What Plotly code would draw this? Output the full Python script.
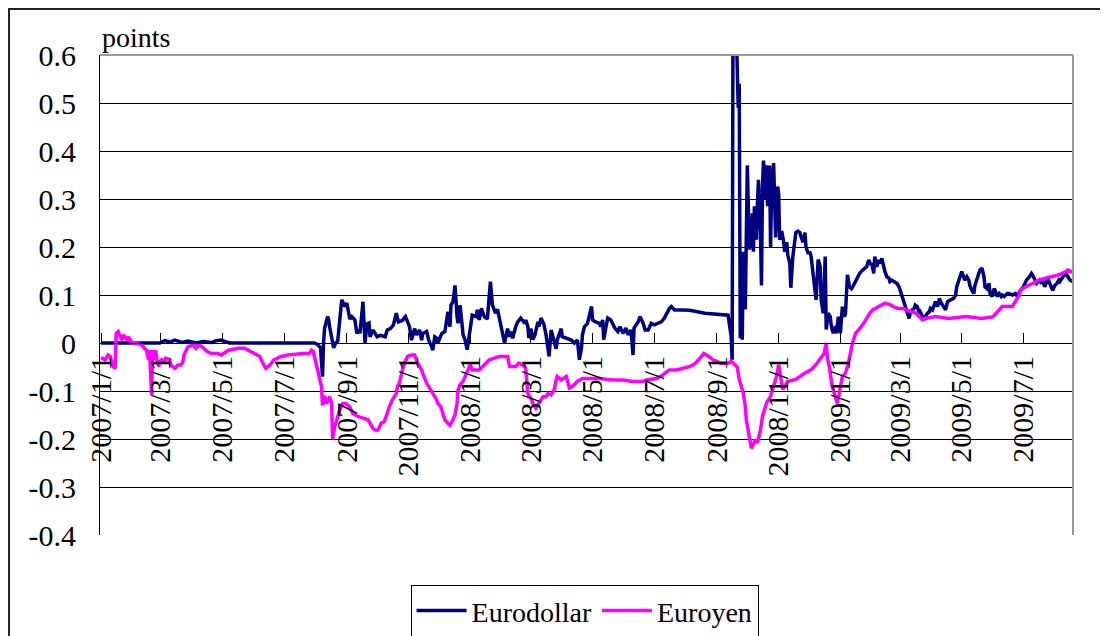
import plotly.graph_objects as go

# ---------------- data ----------------
eurodollar_dates = [
    "2007-01-01", "2007-02-28", "2007-03-05", "2007-03-10", "2007-03-15", "2007-03-22", "2007-03-28",
    "2007-04-05", "2007-04-12", "2007-04-20", "2007-04-25", "2007-04-30", "2007-05-04", "2007-05-08",
    "2007-07-31", "2007-08-03", "2007-08-06", "2007-08-08", "2007-08-09", "2007-08-10", "2007-08-13",
    "2007-08-14", "2007-08-15", "2007-08-17", "2007-08-19", "2007-08-21", "2007-08-23", "2007-08-27",
    "2007-08-30", "2007-09-01", "2007-09-04", "2007-09-06", "2007-09-09", "2007-09-11", "2007-09-13",
    "2007-09-14", "2007-09-17", "2007-09-19", "2007-09-21", "2007-09-23", "2007-09-24", "2007-09-27",
    "2007-10-01", "2007-10-04", "2007-10-09", "2007-10-11", "2007-10-14", "2007-10-17", "2007-10-20",
    "2007-10-22", "2007-10-26", "2007-10-29", "2007-10-31", "2007-11-02", "2007-11-04", "2007-11-07",
    "2007-11-09", "2007-11-12", "2007-11-14", "2007-11-15", "2007-11-19", "2007-11-21", "2007-11-24",
    "2007-11-25", "2007-11-27", "2007-11-29", "2007-11-30", "2007-12-04", "2007-12-07", "2007-12-09",
    "2007-12-10", "2007-12-12", "2007-12-13", "2007-12-15", "2007-12-17", "2007-12-19", "2007-12-20",
    "2007-12-22", "2007-12-24", "2007-12-25", "2007-12-27", "2007-12-29", "2008-01-03", "2008-01-07",
    "2008-01-08", "2008-01-10", "2008-01-12", "2008-01-15", "2008-01-18", "2008-01-21", "2008-01-23",
    "2008-01-26", "2008-01-28", "2008-01-30", "2008-02-01", "2008-02-02", "2008-02-04", "2008-02-07",
    "2008-02-09", "2008-02-10", "2008-02-12", "2008-02-15", "2008-02-17", "2008-02-20", "2008-02-24",
    "2008-02-25", "2008-02-27", "2008-02-28", "2008-03-01", "2008-03-03", "2008-03-05", "2008-03-08",
    "2008-03-09", "2008-03-11", "2008-03-14", "2008-03-16", "2008-03-17", "2008-03-19", "2008-03-21",
    "2008-03-24", "2008-03-26", "2008-03-27", "2008-03-31", "2008-04-01", "2008-04-05", "2008-04-10",
    "2008-04-13", "2008-04-16", "2008-04-18", "2008-04-20", "2008-04-21", "2008-04-23", "2008-04-26",
    "2008-04-30", "2008-05-01", "2008-05-04", "2008-05-08", "2008-05-09", "2008-05-11", "2008-05-12",
    "2008-05-14", "2008-05-16", "2008-05-19", "2008-05-23", "2008-05-26", "2008-05-28", "2008-05-31",
    "2008-06-03", "2008-06-05", "2008-06-08", "2008-06-10", "2008-06-11", "2008-06-15", "2008-06-17",
    "2008-06-20", "2008-06-22", "2008-06-25", "2008-06-28", "2008-07-01", "2008-07-04", "2008-07-08",
    "2008-07-11", "2008-07-16", "2008-07-18", "2008-07-21", "2008-07-28", "2008-08-05", "2008-08-20",
    "2008-09-01", "2008-09-10", "2008-09-12", "2008-09-15", "2008-09-16", "2008-09-17", "2008-09-19",
    "2008-09-22", "2008-09-23", "2008-09-24", "2008-09-25", "2008-09-26", "2008-09-27", "2008-09-29",
    "2008-10-01", "2008-10-03", "2008-10-05", "2008-10-06", "2008-10-07", "2008-10-08", "2008-10-10",
    "2008-10-11", "2008-10-12", "2008-10-14", "2008-10-15", "2008-10-16", "2008-10-17", "2008-10-19",
    "2008-10-20", "2008-10-21", "2008-10-23", "2008-10-24", "2008-10-25", "2008-10-27", "2008-10-28",
    "2008-10-29", "2008-10-31", "2008-11-01", "2008-11-02", "2008-11-04", "2008-11-06", "2008-11-07",
    "2008-11-09", "2008-11-10", "2008-11-12", "2008-11-13", "2008-11-15", "2008-11-17", "2008-11-18",
    "2008-11-20", "2008-11-22", "2008-11-23", "2008-11-25", "2008-11-27", "2008-11-28", "2008-11-30",
    "2008-12-02", "2008-12-03", "2008-12-05", "2008-12-07", "2008-12-08", "2008-12-10", "2008-12-12",
    "2008-12-13", "2008-12-15", "2008-12-17", "2008-12-18", "2008-12-20", "2008-12-22", "2008-12-23",
    "2008-12-25", "2008-12-27", "2008-12-28", "2008-12-30", "2009-01-01", "2009-01-03", "2009-01-05",
    "2009-01-06", "2009-01-08", "2009-01-10", "2009-01-12", "2009-01-14", "2009-01-17", "2009-01-20",
    "2009-01-23", "2009-01-27", "2009-01-29", "2009-01-31", "2009-02-01", "2009-02-03", "2009-02-04",
    "2009-02-06", "2009-02-08", "2009-02-09", "2009-02-11", "2009-02-13", "2009-02-14", "2009-02-16",
    "2009-02-18", "2009-02-19", "2009-02-21", "2009-02-23", "2009-02-26", "2009-02-28", "2009-03-01",
    "2009-03-03", "2009-03-05", "2009-03-06", "2009-03-08", "2009-03-10", "2009-03-11", "2009-03-13",
    "2009-03-15", "2009-03-16", "2009-03-18", "2009-03-20", "2009-03-21", "2009-03-23", "2009-03-25",
    "2009-03-26", "2009-03-28", "2009-03-30", "2009-03-31", "2009-04-02", "2009-04-04", "2009-04-05",
    "2009-04-07", "2009-04-09", "2009-04-10", "2009-04-12", "2009-04-14", "2009-04-15", "2009-04-17",
    "2009-04-19", "2009-04-20", "2009-04-23", "2009-04-25", "2009-04-26", "2009-04-28", "2009-04-29",
    "2009-05-01", "2009-05-04", "2009-05-06", "2009-05-08", "2009-05-09", "2009-05-11", "2009-05-13",
    "2009-05-14", "2009-05-16", "2009-05-19", "2009-05-21", "2009-05-23", "2009-05-24", "2009-05-26",
    "2009-05-28", "2009-05-29", "2009-05-31", "2009-06-02", "2009-06-03", "2009-06-05", "2009-06-07",
    "2009-06-09", "2009-06-10", "2009-06-12", "2009-06-15", "2009-06-17", "2009-06-20", "2009-06-23",
    "2009-06-25", "2009-06-28", "2009-07-01", "2009-07-04", "2009-07-07", "2009-07-09", "2009-07-10",
    "2009-07-12", "2009-07-14", "2009-07-17", "2009-07-19", "2009-07-20", "2009-07-22", "2009-07-24",
    "2009-07-25", "2009-07-27", "2009-07-29", "2009-07-30", "2009-08-01", "2009-08-03", "2009-08-05",
    "2009-08-06", "2009-08-09", "2009-08-12", "2009-08-14", "2009-08-16", "2009-08-19",
]
eurodollar_values = [
    0.0, 0.0, 0.005, 0.002, 0.006, 0.001, 0.004,
    0.0, 0.003, 0.001, 0.005, 0.006, 0.003, 0.0,
    0.0, -0.003, -0.01, -0.07, 0.0, 0.03, 0.055,
    0.05, 0.034, 0.01, -0.01, 0.0, 0.004, 0.09,
    0.076, 0.083, 0.05, 0.055, 0.048, 0.02, 0.028,
    0.02, 0.086, 0.0, 0.04, 0.042, 0.013, 0.027,
    0.013, 0.016, 0.013, 0.027, 0.03, 0.037, 0.062,
    0.044, 0.047, 0.055, 0.044, 0.034, 0.006, 0.03,
    0.017, 0.027, 0.006, 0.02, 0.024, 0.006, -0.008,
    -0.015, 0.013, 0.01, 0.0, 0.02, 0.024, 0.048,
    0.065, 0.034, 0.079, 0.086, 0.12, 0.055, 0.041,
    0.079, 0.034, 0.017, 0.006, -0.014, 0.058, 0.055,
    0.069, 0.048, 0.072, 0.055, 0.05, 0.128, 0.079,
    0.062, 0.07, 0.048, 0.03, 0.013, 0.0, 0.03,
    0.013, 0.024, 0.01, 0.034, 0.044, 0.052, 0.041,
    0.048, 0.034, 0.01, 0.03, 0.007, 0.017, 0.044,
    0.034, 0.052, 0.038, 0.017, 0.0, -0.028, 0.027,
    0.006, -0.012, 0.006, 0.03, 0.013, 0.01, 0.006,
    0.0, 0.006, -0.035, -0.011, 0.017, 0.034, 0.041,
    0.076, 0.048, 0.044, 0.041, 0.034, 0.048, 0.007,
    0.031, 0.052, 0.048, 0.031, 0.024, 0.034, 0.02,
    0.031, 0.017, 0.027, -0.025, 0.031, 0.044, 0.055,
    0.041, 0.027, 0.027, 0.041, 0.038, 0.041, 0.044,
    0.052, 0.072, 0.076, 0.069, 0.069, 0.068, 0.062,
    0.06, 0.058, 0.058, 0.014, -0.035, 0.8, 0.75,
    0.49, 0.54, 0.01, 0.19, 0.007, 0.19, 0.07,
    0.37, 0.195, 0.215, 0.27, 0.19, 0.285, 0.215,
    0.29, 0.34, 0.23, 0.12, 0.326, 0.38, 0.3,
    0.37, 0.285, 0.37, 0.2, 0.31, 0.375, 0.31,
    0.22, 0.326, 0.31, 0.215, 0.233, 0.21, 0.19,
    0.21, 0.183, 0.167, 0.115, 0.18, 0.215, 0.23,
    0.233, 0.23, 0.222, 0.21, 0.23, 0.2, 0.188,
    0.188, 0.181, 0.146, 0.097, 0.09, 0.174, 0.16,
    0.09, 0.062, 0.18, 0.028, 0.062, 0.055, 0.035,
    0.02, 0.035, 0.02, 0.055, 0.02, 0.076, 0.055,
    0.06, 0.142, 0.117, 0.113, 0.12, 0.131, 0.145,
    0.152, 0.159, 0.173, 0.163, 0.166, 0.145, 0.18,
    0.159, 0.173, 0.166, 0.176, 0.152, 0.149, 0.138,
    0.135, 0.128, 0.131, 0.128, 0.124, 0.117, 0.11,
    0.097, 0.083, 0.076, 0.062, 0.051, 0.062, 0.069,
    0.072, 0.079, 0.076, 0.062, 0.065, 0.058, 0.048,
    0.055, 0.062, 0.065, 0.072, 0.069, 0.083, 0.086,
    0.076, 0.093, 0.086, 0.079, 0.072, 0.069, 0.086,
    0.09, 0.09, 0.093, 0.1, 0.117, 0.128, 0.135,
    0.149, 0.131, 0.138, 0.131, 0.12, 0.11, 0.103,
    0.12, 0.131, 0.152, 0.156, 0.138, 0.117, 0.113,
    0.124, 0.103, 0.097, 0.113, 0.11, 0.097, 0.103,
    0.097, 0.1, 0.097, 0.103, 0.103, 0.1, 0.103,
    0.097, 0.11, 0.117, 0.131, 0.138, 0.145, 0.142,
    0.131, 0.124, 0.131, 0.124, 0.131, 0.117, 0.128,
    0.135, 0.124, 0.117, 0.11, 0.12, 0.124, 0.131,
    0.128, 0.138, 0.145, 0.138, 0.131, 0.128,
]

euroyen_dates = [
    "2007-01-01", "2007-01-05", "2007-01-08", "2007-01-10", "2007-01-13", "2007-01-15", "2007-01-16",
    "2007-01-18", "2007-01-20", "2007-01-22", "2007-01-23", "2007-01-25", "2007-01-27", "2007-01-28",
    "2007-01-30", "2007-02-01", "2007-02-05", "2007-02-10", "2007-02-13", "2007-02-15", "2007-02-17",
    "2007-02-18", "2007-02-20", "2007-02-21", "2007-02-23", "2007-02-24", "2007-02-25", "2007-02-27",
    "2007-02-28", "2007-03-02", "2007-03-05", "2007-03-06", "2007-03-10", "2007-03-11", "2007-03-15",
    "2007-03-18", "2007-03-21", "2007-03-23", "2007-03-24", "2007-03-26", "2007-03-28", "2007-04-02",
    "2007-04-05", "2007-04-08", "2007-04-11", "2007-04-16", "2007-04-20", "2007-04-26", "2007-04-30",
    "2007-05-07", "2007-05-17", "2007-05-23", "2007-05-30", "2007-06-02", "2007-06-07", "2007-06-10",
    "2007-06-13", "2007-06-17", "2007-06-21", "2007-06-28", "2007-07-05", "2007-07-20", "2007-07-26",
    "2007-07-28", "2007-07-30", "2007-07-31", "2007-08-02", "2007-08-03", "2007-08-05", "2007-08-07",
    "2007-08-08", "2007-08-10", "2007-08-12", "2007-08-15", "2007-08-17", "2007-08-18", "2007-08-20",
    "2007-08-22", "2007-08-25", "2007-08-28", "2007-08-31", "2007-09-04", "2007-09-07", "2007-09-12",
    "2007-09-19", "2007-09-22", "2007-09-24", "2007-09-27", "2007-09-29", "2007-10-02", "2007-10-05",
    "2007-10-08", "2007-10-11", "2007-10-13", "2007-10-16", "2007-10-20", "2007-10-21", "2007-10-23",
    "2007-10-26", "2007-10-28", "2007-10-31", "2007-11-04", "2007-11-07", "2007-11-10", "2007-11-14",
    "2007-11-15", "2007-11-19", "2007-11-22", "2007-11-25", "2007-11-29", "2007-11-30", "2007-12-03",
    "2007-12-05", "2007-12-07", "2007-12-10", "2007-12-12", "2007-12-15", "2007-12-17", "2007-12-19",
    "2007-12-20", "2007-12-22", "2007-12-25", "2008-01-01", "2008-01-03", "2008-01-10", "2008-01-13",
    "2008-01-16", "2008-01-20", "2008-01-30", "2008-02-07", "2008-02-09", "2008-02-15", "2008-02-18",
    "2008-02-24", "2008-02-25", "2008-02-26", "2008-02-27", "2008-03-02", "2008-03-03", "2008-03-06",
    "2008-03-08", "2008-03-10", "2008-03-13", "2008-03-16", "2008-03-18", "2008-03-21", "2008-03-24",
    "2008-03-26", "2008-03-27", "2008-03-31", "2008-04-05", "2008-04-06", "2008-04-08", "2008-04-11",
    "2008-04-16", "2008-04-21", "2008-04-30", "2008-05-08", "2008-05-21", "2008-05-31", "2008-06-10",
    "2008-06-20", "2008-06-23", "2008-07-03", "2008-07-09", "2008-07-16", "2008-07-23", "2008-07-29",
    "2008-08-05", "2008-08-08", "2008-08-11", "2008-08-15", "2008-08-18", "2008-08-19", "2008-08-24",
    "2008-08-28", "2008-09-05", "2008-09-12", "2008-09-15", "2008-09-17", "2008-09-19", "2008-09-21",
    "2008-09-23", "2008-09-25", "2008-09-27", "2008-09-29", "2008-09-30", "2008-10-02", "2008-10-04",
    "2008-10-05", "2008-10-07", "2008-10-09", "2008-10-11", "2008-10-13", "2008-10-14", "2008-10-16",
    "2008-10-18", "2008-10-20", "2008-10-22", "2008-10-24", "2008-10-26", "2008-10-28", "2008-10-30",
    "2008-11-01", "2008-11-05", "2008-11-10", "2008-11-18", "2008-11-27", "2008-12-03", "2008-12-09",
    "2008-12-14", "2008-12-16", "2008-12-18", "2008-12-19", "2008-12-21", "2008-12-24", "2008-12-29",
    "2009-01-03", "2009-01-06", "2009-01-09", "2009-01-13", "2009-01-16", "2009-01-19", "2009-01-22",
    "2009-01-24", "2009-01-27", "2009-01-30", "2009-02-02", "2009-02-05", "2009-02-09", "2009-02-14",
    "2009-02-19", "2009-02-22", "2009-02-27", "2009-03-04", "2009-03-07", "2009-03-13", "2009-03-17",
    "2009-03-20", "2009-03-23", "2009-03-26", "2009-04-05", "2009-04-18", "2009-05-05", "2009-05-21",
    "2009-06-01", "2009-06-04", "2009-06-07", "2009-06-10", "2009-06-20", "2009-06-23", "2009-06-27",
    "2009-06-28", "2009-07-03", "2009-07-10", "2009-07-16", "2009-07-23", "2009-07-30", "2009-08-05",
    "2009-08-12", "2009-08-14", "2009-08-17", "2009-08-19",
]
euroyen_values = [
    -0.03, -0.035, -0.025, -0.028, -0.049, -0.053, 0.02,
    0.024, 0.013, 0.006, 0.017, 0.01, 0.006, 0.013,
    0.006, 0.0, 0.0, -0.004, -0.011, -0.015, -0.035,
    -0.015, -0.108, -0.015, -0.035, -0.015, -0.032, -0.049,
    -0.039, -0.035, -0.039, -0.032, -0.035, -0.046, -0.053,
    -0.046, -0.046, -0.039, -0.025, -0.015, -0.008, -0.004,
    -0.011, -0.004, -0.008, -0.018, -0.022, -0.022, -0.025,
    -0.015, -0.011, -0.011, -0.018, -0.022, -0.028, -0.042,
    -0.053, -0.046, -0.035, -0.028, -0.025, -0.022, -0.022,
    -0.015, -0.018, -0.028, -0.046, -0.06, -0.074, -0.091,
    -0.13, -0.11, -0.126, -0.112, -0.126, -0.2, -0.175,
    -0.16, -0.14, -0.126, -0.126, -0.133, -0.147, -0.153,
    -0.157, -0.16, -0.167, -0.178, -0.181, -0.181, -0.167,
    -0.164, -0.147, -0.133, -0.119, -0.105, -0.091, -0.084,
    -0.056, -0.042, -0.028, -0.025, -0.025, -0.042, -0.056,
    -0.063, -0.084, -0.094, -0.105, -0.119, -0.126, -0.133,
    -0.147, -0.16, -0.167, -0.171, -0.16, -0.15, -0.126,
    -0.098, -0.087, -0.08, -0.045, -0.056, -0.056, -0.049,
    -0.042, -0.035, -0.028, -0.028, -0.049, -0.049, -0.042,
    -0.049, -0.056, -0.084, -0.105, -0.119, -0.126, -0.136,
    -0.129, -0.119, -0.112, -0.112, -0.105, -0.108, -0.098,
    -0.077, -0.07, -0.077, -0.07, -0.077, -0.094, -0.091,
    -0.08, -0.074, -0.074, -0.074, -0.077, -0.077, -0.08,
    -0.08, -0.077, -0.074, -0.067, -0.056, -0.056, -0.053,
    -0.049, -0.046, -0.042, -0.032, -0.025, -0.022, -0.028,
    -0.035, -0.042, -0.042, -0.038, -0.042, -0.045, -0.05,
    -0.076, -0.09, -0.104, -0.132, -0.16, -0.184, -0.212,
    -0.219, -0.212, -0.201, -0.208, -0.194, -0.181, -0.153,
    -0.139, -0.125, -0.118, -0.111, -0.097, -0.083, -0.069,
    -0.045, -0.097, -0.08, -0.076, -0.0625, -0.056, -0.042,
    -0.028, -0.022, 0.0, -0.028, -0.049, -0.091, -0.126,
    -0.07, -0.063, -0.042, 0.0, 0.02, 0.027, 0.034,
    0.041, 0.051, 0.062, 0.069, 0.072, 0.076, 0.083,
    0.08, 0.076, 0.072, 0.072, 0.069, 0.065, 0.062,
    0.055, 0.048, 0.051, 0.055, 0.051, 0.055, 0.051,
    0.055, 0.062, 0.069, 0.076, 0.076, 0.086, 0.1,
    0.11, 0.117, 0.124, 0.131, 0.135, 0.138, 0.142,
    0.149, 0.152, 0.149, 0.148,
]

y_tick_values = [0.6, 0.5, 0.4, 0.3, 0.2, 0.1, 0.0, -0.1, -0.2, -0.3, -0.4]
y_tick_labels = ["0.6", "0.5", "0.4", "0.3", "0.2", "0.1", "0", "-0.1", "-0.2", "-0.3", "-0.4"]

x_tick_values = ["2007-01-01", "2007-03-01", "2007-05-01", "2007-07-01", "2007-09-01", "2007-11-01",
                 "2008-01-01", "2008-03-01", "2008-05-01", "2008-07-01", "2008-09-01", "2008-11-01",
                 "2009-01-01", "2009-03-01", "2009-05-01", "2009-07-01"]
x_tick_labels = ["2007/1/1", "2007/3/1", "2007/5/1", "2007/7/1", "2007/9/1", "2007/11/1",
                 "2008/1/1", "2008/3/1", "2008/5/1", "2008/7/1", "2008/9/1", "2008/11/1",
                 "2009/1/1", "2009/3/1", "2009/5/1", "2009/7/1"]

series_names = ["Eurodollar", "Euroyen"]

# ---------------- figure ----------------
FONT = "Liberation Serif, Times New Roman, serif"
FS = 28
TFS = 30

fig = go.Figure()
fig.add_trace(go.Scatter(x=eurodollar_dates, y=eurodollar_values, mode="lines",
                         name=series_names[0], line=dict(color="#000080", width=3.5)))
fig.add_trace(go.Scatter(x=euroyen_dates, y=euroyen_values, mode="lines",
                         name=series_names[1], line=dict(color="#FF00FF", width=3.5)))

fig.update_layout(
    width=1100, height=628,
    margin=dict(l=92, r=35, t=47, b=101, pad=0, autoexpand=False),
    paper_bgcolor="white", plot_bgcolor="white",
    font=dict(family=FONT, size=FS, color="black"),
    showlegend=True,
    legend=dict(orientation="h", x=0.498, xanchor="center", y=-0.104, yanchor="top",
                bordercolor="black", borderwidth=1, bgcolor="white",
                itemwidth=50,
                font=dict(family=FONT, size=FS, color="black")),
    xaxis=dict(type="date", range=["2006-12-31", "2009-08-19"],
               tickmode="array", tickvals=x_tick_values, ticktext=x_tick_labels,
               tickangle=-90, ticks="inside", ticklen=10, tickcolor="black", tickwidth=1,
               showline=True, linecolor="black", linewidth=1,
               showgrid=False, zeroline=False,
               anchor="free", position=0.4,
               tickfont=dict(family=FONT, size=TFS, color="black")),
    yaxis=dict(range=[-0.4, 0.6], tickmode="array", tickvals=y_tick_values, ticktext=y_tick_labels,
               ticks="inside", ticklen=8, tickcolor="black", ticklabelstandoff=17,
               showline=True, linecolor="black", linewidth=1,
               showgrid=True, gridcolor="black", gridwidth=1, zeroline=False,
               tickfont=dict(family=FONT, size=TFS, color="black")),
    annotations=[dict(text="points", x=0, y=1, xref="paper", yref="paper",
                      xanchor="left", yanchor="bottom", showarrow=False,
                      font=dict(family=FONT, size=FS, color="black"))],
    shapes=[
        # plot-area border (top and right, gray)
        dict(type="line", xref="paper", yref="paper", x0=0, x1=1, y0=1, y1=1,
             line=dict(color="#9a9a9a", width=2), layer="above"),
        dict(type="line", xref="paper", yref="paper", x0=1, x1=1, y0=0, y1=1,
             line=dict(color="#9a9a9a", width=2), layer="above"),
        # outer chart border
        dict(type="rect", xref="paper", yref="paper", x0=-0.0935, x1=1.5, y0=-0.6, y1=1.0958,
             line=dict(color="#222222", width=2), fillcolor="rgba(0,0,0,0)", layer="above"),
    ],
)

fig.write_html("out.html")
